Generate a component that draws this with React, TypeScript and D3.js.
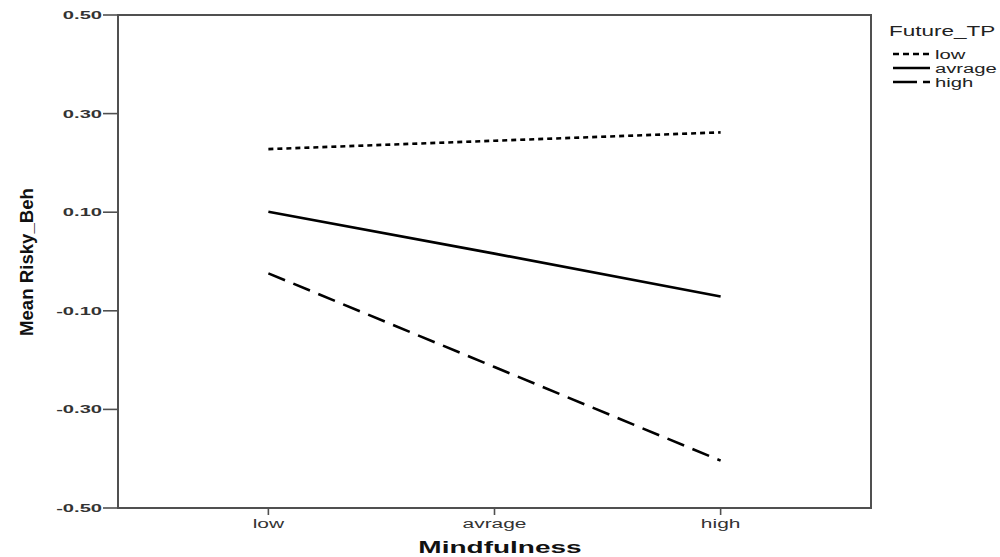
import React from "react";
import * as d3 from "d3";

const categories = ["low", "avrage", "high"];
const yTicks = [0.5, 0.3, 0.1, -0.1, -0.3, -0.5];
const seriesNames = ["low", "avrage", "high"];
const lowValues = [0.228, 0.245, 0.262];
const avrageValues = [0.101, 0.016, -0.071];
const highValues = [-0.024, -0.214, -0.404];

const W = 1000;
const H = 557;
const plot = { left: 118, right: 871, top: 15, bottom: 508 };

const dashes: Record<string, string | undefined> = {
  low: "5 4",
  avrage: undefined,
  high: "18 9",
};
const legendDashes: Record<string, string | undefined> = {
  low: "6 4",
  avrage: undefined,
  high: "24 6 7 100",
};

const fmt = d3
  .formatLocale({ decimal: ".", thousands: ",", grouping: [3], currency: ["", ""], minus: "-" })
  .format(".2f");

function SText(props: {
  x: number;
  y: number;
  sx: number;
  anchor?: string;
  size: number;
  weight?: string;
  fill?: string;
  children: React.ReactNode;
}) {
  const { x, y, sx, anchor = "start", size, weight = "normal", fill = "#222", children } = props;
  return (
    <text
      transform={`translate(${x},${y}) scale(${sx},1)`}
      textAnchor={anchor}
      fontSize={size}
      fontWeight={weight}
      fill={fill}
    >
      {children}
    </text>
  );
}

export default function App() {
  const x = d3
    .scalePoint<string>()
    .domain(categories)
    .range([plot.left, plot.right])
    .padding(0.665)
    .align(0.5);
  const y = d3.scaleLinear().domain([-0.5, 0.5]).range([plot.bottom, plot.top]);
  const line = d3
    .line<number>()
    .x((_, i) => x(categories[i]) as number)
    .y((d) => y(d));
  const series = [
    { name: seriesNames[0], values: lowValues },
    { name: seriesNames[1], values: avrageValues },
    { name: seriesNames[2], values: highValues },
  ];
  const axisColor = "#505050";
  const font = "Liberation Sans, Arial, sans-serif";
  return (
    <svg
      width={W}
      height={H}
      style={{ position: "absolute", left: 0, top: 0, background: "#fff" }}
      fontFamily={font}
    >
      <rect x={0} y={0} width={W} height={H} fill="#fff" />
      <rect
        x={plot.left}
        y={plot.top}
        width={plot.right - plot.left}
        height={plot.bottom - plot.top}
        fill="none"
        stroke={axisColor}
        strokeWidth={2}
      />
      {yTicks.map((t) => (
        <g key={t}>
          <line x1={plot.left - 15} x2={plot.left} y1={y(t)} y2={y(t)} stroke={axisColor} strokeWidth={1.6} />
          <SText x={plot.left - 16} y={y(t) + 4} sx={1.75} anchor="end" size={11.5} weight="bold" fill="#333">
            {fmt(t)}
          </SText>
        </g>
      ))}
      {categories.map((c) => (
        <g key={c}>
          <line x1={x(c)} x2={x(c)} y1={plot.bottom} y2={plot.bottom + 7} stroke={axisColor} strokeWidth={1.6} />
          <SText x={x(c) as number} y={plot.bottom + 20} sx={1.55} anchor="middle" size={13.5} fill="#333">
            {c}
          </SText>
        </g>
      ))}
      <SText x={500} y={553} sx={1.75} anchor="middle" size={16} weight="bold" fill="#111">
        Mindfulness
      </SText>
      <text
        transform={`translate(33,${262}) rotate(-90)`}
        textAnchor="middle"
        fontSize={18}
        fontWeight="bold"
        textLength={148}
        lengthAdjust="spacingAndGlyphs"
        fill="#111"
      >
        Mean Risky_Beh
      </text>
      {series.map((s) => (
        <path
          key={s.name}
          d={line(s.values) || ""}
          fill="none"
          stroke="#000"
          strokeWidth={2.6}
          strokeDasharray={dashes[s.name]}
        />
      ))}
      <SText x={889} y={36} sx={1.5} size={15} fill="#222">
        Future_TP
      </SText>
      {series.map((s, i) => {
        const ly = 54 + i * 14;
        return (
          <g key={s.name}>
            <line
              x1={893}
              x2={930}
              y1={ly}
              y2={ly}
              stroke="#000"
              strokeWidth={2.6}
              strokeDasharray={legendDashes[s.name]}
            />
            <SText x={935} y={ly + 4.5} sx={1.5} size={13.5} fill="#222">
              {s.name}
            </SText>
          </g>
        );
      })}
    </svg>
  );
}
